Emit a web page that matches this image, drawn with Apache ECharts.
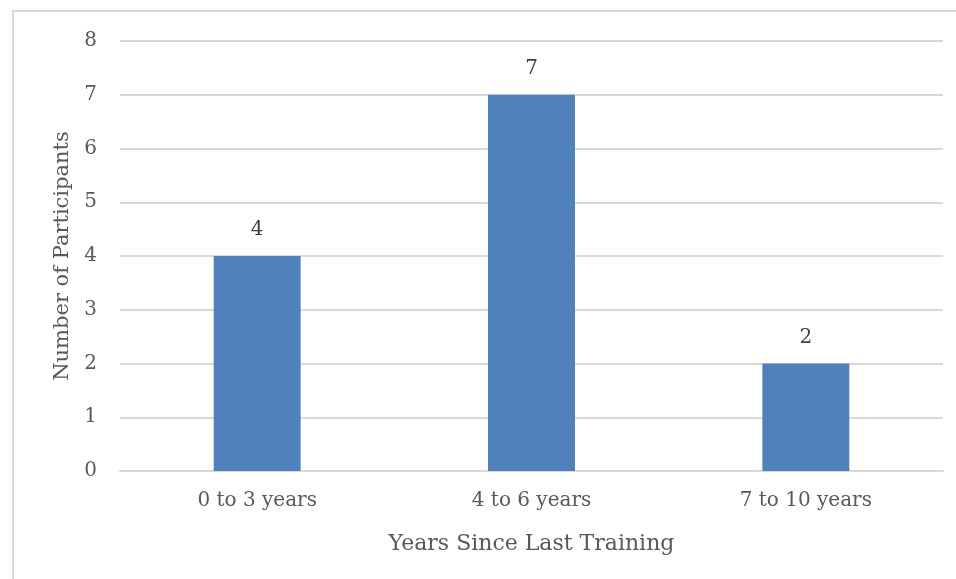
<!DOCTYPE html>
<html>
<head>
<meta charset="utf-8">
<script src="https://cdn.jsdelivr.net/npm/echarts@6/dist/echarts.min.js"></script>
<style>
  html, body { margin: 0; padding: 0; background: #fff; }
  #frame {
    position: absolute; left: 12px; top: 10px;
    width: 960px; height: 600px;
    border: 2px solid #d9d9d9; box-sizing: border-box;
  }
  #chart { position: absolute; left: 0; top: 0; width: 956px; height: 579px; }
</style>
</head>
<body>
<div id="frame"></div>
<div id="chart"></div>
<script>
// categories and values
const categories = ["0 to 3 years", "4 to 6 years", "7 to 10 years"];
const participants = [4, 7, 2];
const xTitle = "Years Since Last Training";
const yTitle = "Number of Participants";

const fontFam = "'DejaVu Serif', serif";
const textColor = "#595959";

let myChart = echarts.init(document.getElementById("chart"));
let option = {
  animation: false,
  textStyle: { fontFamily: fontFam, color: textColor },
  grid: { left: 120, right: 13, top: 41, bottom: 108, containLabel: false },
  xAxis: {
    type: "category",
    data: categories,
    axisTick: { show: false },
    axisLine: { lineStyle: { color: "#d9d9d9", width: 2 } },
    axisLabel: { color: textColor, fontSize: 20, fontFamily: fontFam, margin: 20 },
    name: xTitle,
    nameLocation: "middle",
    nameGap: 62,
    nameTextStyle: { color: textColor, fontSize: 22, fontFamily: fontFam }
  },
  yAxis: {
    type: "value",
    min: 0,
    max: 8,
    interval: 1,
    axisLine: { show: false },
    axisTick: { show: false },
    splitLine: { lineStyle: { color: "#d9d9d9", width: 2 } },
    axisLabel: { color: textColor, fontSize: 20, fontFamily: fontFam, margin: 23 },
    name: yTitle,
    nameLocation: "middle",
    nameGap: 47,
    nameTextStyle: { color: textColor, fontSize: 21, fontFamily: fontFam }
  },
  series: [
    {
      type: "bar",
      data: participants,
      barWidth: "31.7%",
      itemStyle: { color: "#4f81bd" },
      label: {
        show: true,
        position: "top",
        distance: 16,
        color: "#404040",
        fontSize: 20,
        fontFamily: fontFam
      }
    }
  ]
};
myChart.setOption(option);
</script>
</body>
</html>
